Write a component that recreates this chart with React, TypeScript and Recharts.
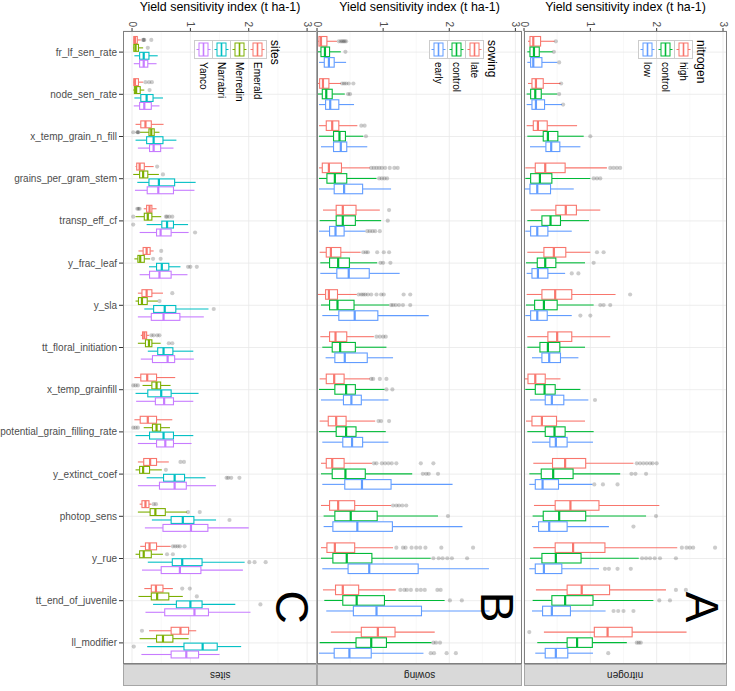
import { BarChart, Bar, XAxis, YAxis, CartesianGrid } from 'recharts';

const params = [
  'fr_lf_sen_rate', 'node_sen_rate', 'x_temp_grain_n_fill', 'grains_per_gram_stem',
  'transp_eff_cf', 'y_frac_leaf', 'y_sla', 'tt_floral_initiation', 'x_temp_grainfill',
  'potential_grain_filling_rate', 'y_extinct_coef', 'photop_sens', 'y_rue',
  'tt_end_of_juvenile', 'll_modifier',
];

const xTicks = [0, 1, 2, 3];
const minorTicks = [0.5, 1.5, 2.5];
const axisTitle = 'Yield sensitivity index (t ha-1)';

// each row: [lower whisker, q1, median, q3, upper whisker], one row per parameter
const emerald = [
  [0.02, 0.03, 0.05, 0.09, 0.15], [0.02, 0.03, 0.05, 0.11, 0.19], [0.06, 0.15, 0.23, 0.33, 0.54],
  [0.06, 0.08, 0.13, 0.21, 0.37], [0.2, 0.25, 0.3, 0.34, 0.42], [0.11, 0.19, 0.25, 0.31, 0.37],
  [0.1, 0.17, 0.25, 0.34, 0.53], [0.15, 0.18, 0.21, 0.25, 0.29], [0.04, 0.15, 0.26, 0.42, 0.74],
  [0.04, 0.14, 0.27, 0.42, 0.69], [0.1, 0.2, 0.31, 0.42, 0.63], [0.13, 0.17, 0.23, 0.29, 0.33],
  [0.14, 0.23, 0.3, 0.42, 0.66], [0.21, 0.33, 0.41, 0.53, 0.7], [0.29, 0.67, 0.83, 0.97, 1.1],
];
const emeraldOut = [[0.19, 0.2, 0.21, 0.33], [0.23, 0.29, 0.34], [], [0.43], [0.09, 0.11, 0.13], [0.5], [0.69],
  [0.33, 0.37, 0.43, 0.47], [], [], [0.83, 0.89], [0.37, 0.41], [0.7, 0.74, 0.78, 0.82, 0.9], [0.86, 0.99], [0.17]];

const merredin = [
  [0.02, 0.03, 0.06, 0.11, 0.19], [0.02, 0.04, 0.07, 0.14, 0.21], [0.14, 0.29, 0.33, 0.38, 0.47],
  [0.02, 0.13, 0.19, 0.27, 0.46], [0.06, 0.21, 0.27, 0.34, 0.5], [0.04, 0.1, 0.14, 0.21, 0.31],
  [0.06, 0.11, 0.17, 0.26, 0.44], [0.1, 0.23, 0.29, 0.34, 0.49], [0.18, 0.34, 0.42, 0.49, 0.66],
  [0.2, 0.35, 0.42, 0.49, 0.65], [0.06, 0.13, 0.19, 0.3, 0.51], [0.1, 0.31, 0.4, 0.57, 0.94],
  [0.06, 0.13, 0.2, 0.33, 0.53], [0.11, 0.33, 0.43, 0.63, 0.87], [0.13, 0.42, 0.53, 0.7, 0.97],
];
const merredinOut = [[0.27], [0.3], [0.02, 0.09, 0.1, 0.11], [0.53], [0.02, 0.58, 0.6, 0.64, 0.69], [0.36, 0.49],
  [0.47], [0.63, 0.69], [0.02, 0.06, 0.1], [0.02, 0.06, 0.1], [0.58], [0.96, 1.16], [0.6, 0.7], [1.11], []];

const narrabri = [
  [0.04, 0.13, 0.2, 0.29, 0.44], [0.04, 0.15, 0.25, 0.36, 0.53], [0.06, 0.25, 0.37, 0.53, 0.76],
  [0.09, 0.29, 0.46, 0.73, 1.09], [0.25, 0.51, 0.6, 0.71, 0.96], [0.29, 0.42, 0.51, 0.63, 0.83],
  [0.21, 0.37, 0.56, 0.75, 1.31], [0.27, 0.44, 0.54, 0.7, 1.05], [0.06, 0.27, 0.5, 0.67, 1.14],
  [0.06, 0.3, 0.54, 0.71, 1.05], [0.25, 0.54, 0.73, 0.9, 1.26], [0.34, 0.67, 0.87, 1.06, 1.44],
  [0.27, 0.69, 0.86, 1.2, 1.93], [0.36, 0.76, 1.0, 1.2, 1.77], [0.26, 0.89, 1.21, 1.46, 1.87],
];
const narrabriOut = [[], [], [], [], [0.02], [0.96, 1.0, 1.11], [1.4], [], [], [], [1.62, 1.65, 1.7, 1.84],
  [1.67], [2.01, 2.1, 2.29], [2.2], [0.03]];

const yanco = [
  [0.03, 0.13, 0.2, 0.27, 0.42], [0.03, 0.13, 0.21, 0.33, 0.47], [0.1, 0.3, 0.37, 0.49, 0.71],
  [0.05, 0.26, 0.45, 0.71, 1.07], [0.13, 0.42, 0.49, 0.67, 0.97], [0.13, 0.3, 0.47, 0.67, 0.95],
  [0.1, 0.33, 0.54, 0.82, 1.23], [0.15, 0.35, 0.61, 0.73, 1.06], [0.07, 0.4, 0.55, 0.71, 1.05],
  [0.1, 0.42, 0.57, 0.71, 1.02], [0.1, 0.47, 0.73, 0.93, 1.44], [0.22, 0.53, 1.01, 1.3, 2.0],
  [0.17, 0.5, 0.82, 1.18, 1.9], [0.23, 0.56, 1.07, 1.31, 2.03], [0.16, 0.67, 0.93, 1.14, 1.5],
];
const yancoOut = [[], [], [], [], [1.08], [], [], [], [], [], [], [], [], [], []];

const late = [
  [0.01, 0.03, 0.06, 0.15, 0.3], [0.01, 0.04, 0.09, 0.18, 0.36], [0.03, 0.14, 0.23, 0.33, 0.61],
  [0.03, 0.08, 0.18, 0.37, 0.8], [0.09, 0.29, 0.39, 0.59, 0.95], [0.04, 0.14, 0.21, 0.36, 0.66],
  [0.01, 0.13, 0.18, 0.31, 0.6], [0.05, 0.19, 0.28, 0.45, 0.86], [0.04, 0.14, 0.26, 0.41, 0.8],
  [0.04, 0.17, 0.29, 0.44, 0.88], [0.06, 0.14, 0.23, 0.41, 0.83], [0.06, 0.19, 0.32, 0.57, 1.12],
  [0.06, 0.15, 0.27, 0.57, 1.15], [0.09, 0.28, 0.39, 0.63, 1.19], [0.21, 0.67, 0.92, 1.18, 1.78],
];
const lateOut = [[0.33, 0.36, 0.38, 0.4, 0.42, 0.44], [0.38, 0.41, 0.44, 0.48, 0.55], [0.67, 0.72],
  [0.82, 0.86, 0.9, 0.94, 0.98, 1.03, 1.1, 1.17, 1.22], [1.09], [0.7, 0.74, 0.77, 0.91, 1.01, 1.09],
  [0.63, 0.67, 0.7, 0.73, 0.77, 0.82, 0.9, 0.97, 1.01, 1.31, 1.41], [0.9, 0.95, 1.0, 1.04], [0.82, 0.85, 0.95, 1.05],
  [0.93, 0.97, 1.09], [0.86, 0.9, 0.98, 1.03, 1.08, 1.13, 1.2, 1.57, 1.76], [1.15, 1.2, 1.24, 1.29, 1.35],
  [1.2, 1.3, 1.34, 1.43, 1.5, 1.56, 1.64, 1.88, 2.36], [1.26, 1.32, 1.36, 1.42, 1.51, 1.57, 1.63, 1.82, 1.87], []];

const sowControl = [
  [0.01, 0.06, 0.12, 0.19, 0.36], [0.01, 0.08, 0.14, 0.23, 0.42], [0.03, 0.25, 0.34, 0.43, 0.7],
  [0.03, 0.15, 0.27, 0.45, 0.9], [0.04, 0.29, 0.39, 0.58, 0.97], [0.05, 0.19, 0.32, 0.49, 0.91],
  [0.06, 0.19, 0.31, 0.56, 1.09], [0.08, 0.23, 0.35, 0.58, 1.05], [0.03, 0.27, 0.44, 0.58, 1.02],
  [0.03, 0.29, 0.44, 0.59, 1.04], [0.06, 0.23, 0.43, 0.73, 1.44], [0.1, 0.27, 0.51, 0.91, 1.83],
  [0.06, 0.24, 0.45, 0.83, 1.72], [0.11, 0.39, 0.6, 1.02, 1.93], [0.04, 0.59, 0.82, 1.05, 1.73],
];
const sowControlOut = [[0.43], [0.47, 0.5], [0.74], [0.94, 0.98, 1.02, 1.06], [1.07], [0.96, 1.0, 1.11],
  [1.12, 1.15, 1.19, 1.24, 1.3, 1.41], [], [1.05, 1.14], [], [1.6, 1.65, 1.69, 1.83], [1.98],
  [1.76, 1.84, 1.9, 1.97, 2.04, 2.27], [2.01, 2.19], [1.76, 1.8, 1.86]];

const early = [
  [0.03, 0.11, 0.18, 0.26, 0.44], [0.03, 0.13, 0.2, 0.33, 0.56], [0.06, 0.25, 0.36, 0.45, 0.76],
  [0.03, 0.26, 0.41, 0.69, 1.12], [0.03, 0.19, 0.28, 0.41, 0.73], [0.05, 0.3, 0.48, 0.79, 1.25],
  [0.08, 0.33, 0.57, 0.92, 1.69], [0.13, 0.27, 0.42, 0.76, 1.15], [0.06, 0.4, 0.52, 0.67, 1.08],
  [0.08, 0.39, 0.53, 0.69, 1.08], [0.08, 0.42, 0.68, 1.12, 2.05], [0.1, 0.24, 0.61, 1.14, 2.2],
  [0.08, 0.47, 0.79, 1.53, 2.6], [0.14, 0.55, 0.9, 1.58, 2.61], [0.03, 0.26, 0.49, 0.82, 1.61],
];
const earlyOut = [[], [], [], [], [0.76, 0.8, 0.84, 0.88, 0.95], [], [], [], [], [], [], [], [], [],
  [1.72, 1.77, 1.96, 2.1]];

const high = [
  [0.06, 0.09, 0.14, 0.25, 0.46], [0.06, 0.12, 0.18, 0.29, 0.55], [0.04, 0.14, 0.21, 0.35, 0.8],
  [0.02, 0.17, 0.32, 0.62, 1.25], [0.1, 0.48, 0.63, 0.79, 1.15], [0.05, 0.3, 0.45, 0.63, 1.0],
  [0.04, 0.27, 0.47, 0.72, 1.38], [0.05, 0.36, 0.5, 0.72, 1.3], [0.0, 0.06, 0.17, 0.32, 0.55],
  [0.03, 0.12, 0.27, 0.49, 0.92], [0.14, 0.43, 0.62, 0.93, 1.65], [0.15, 0.47, 0.7, 1.13, 2.04],
  [0.14, 0.47, 0.74, 1.22, 2.31], [0.18, 0.65, 0.87, 1.29, 2.14], [0.3, 1.06, 1.26, 1.63, 2.45],
];
const highOut = [[0.48], [0.56], [], [1.3, 1.35, 1.4, 1.45], [], [1.1, 1.2], [1.6], [], [], [],
  [1.7, 1.75, 1.8, 1.85, 1.9, 1.94, 2.0], [], [2.38, 2.45, 2.5, 2.55, 2.88], [2.29, 2.44], [0.08]];

const nitControl = [
  [0.05, 0.09, 0.15, 0.23, 0.43], [0.04, 0.1, 0.17, 0.26, 0.5], [0.05, 0.29, 0.36, 0.51, 0.9],
  [0.02, 0.1, 0.24, 0.42, 1.0], [0.05, 0.27, 0.4, 0.55, 0.98], [0.03, 0.2, 0.32, 0.48, 0.92],
  [0.03, 0.16, 0.3, 0.5, 1.05], [0.05, 0.24, 0.36, 0.54, 0.92], [0.02, 0.17, 0.31, 0.47, 0.85],
  [0.05, 0.32, 0.46, 0.62, 1.05], [0.08, 0.26, 0.44, 0.74, 1.45], [0.13, 0.29, 0.53, 0.93, 1.84],
  [0.09, 0.27, 0.48, 0.86, 1.73], [0.13, 0.42, 0.62, 1.04, 1.95], [0.2, 0.65, 0.8, 1.03, 1.55],
];
const nitControlOut = [[0.45], [0.53], [1.0], [1.05, 1.1, 1.15], [], [1.05], [1.15, 1.2, 1.3], [], [], [],
  [1.62, 1.68, 1.84], [1.99], [1.78, 1.84, 1.9, 1.97, 2.05, 2.29], [2.04, 2.2], [1.7, 1.73, 1.76]];

const low = [
  [0.05, 0.1, 0.14, 0.27, 0.5], [0.04, 0.12, 0.18, 0.31, 0.57], [0.09, 0.33, 0.41, 0.54, 0.85],
  [0.01, 0.09, 0.2, 0.4, 0.75], [0.02, 0.1, 0.2, 0.36, 0.72], [0.04, 0.12, 0.21, 0.36, 0.62],
  [0.02, 0.1, 0.2, 0.35, 0.72], [0.12, 0.27, 0.38, 0.55, 0.82], [0.09, 0.32, 0.42, 0.6, 0.97],
  [0.12, 0.39, 0.48, 0.65, 1.04], [0.08, 0.17, 0.28, 0.52, 1.03], [0.12, 0.22, 0.38, 0.65, 1.28],
  [0.08, 0.17, 0.3, 0.57, 1.13], [0.12, 0.28, 0.42, 0.7, 1.23], [0.17, 0.32, 0.48, 0.66, 1.04],
];
const lowOut = [[0.53], [0.59], [], [], [], [0.72, 0.82], [0.85, 1.0], [], [1.07], [], [1.06, 1.19, 1.41],
  [1.65], [1.22, 1.28, 1.41, 1.61], [1.35, 1.42, 1.5, 1.65], [1.27]];

const FONT = '"Liberation Sans", Arial, Helvetica, sans-serif';
const PLOT_TOP = 31;
const PLOT_H = 633;

interface Series { name: string; color: string; box: number[][]; out: number[][]; }

const panels = [
  {
    strip: 'sites', letter: 'C', left: 0, yAxisWidth: 123, plotWidth: 194, domain: [-0.155, 3.17],
    legendLeft: 194,
    series: [
      { name: 'Emerald', color: '#F8766D', box: emerald, out: emeraldOut },
      { name: 'Merredin', color: '#7CAE00', box: merredin, out: merredinOut },
      { name: 'Narrabri', color: '#00BFC4', box: narrabri, out: narrabriOut },
      { name: 'Yanco', color: '#C77CFF', box: yanco, out: yancoOut },
    ],
  },
  {
    strip: 'sowing', letter: 'B', left: 317, yAxisWidth: 0, plotWidth: 205, domain: [0, 3.1],
    legendLeft: 429,
    series: [
      { name: 'late', color: '#F8766D', box: late, out: lateOut },
      { name: 'control', color: '#00BA38', box: sowControl, out: sowControlOut },
      { name: 'early', color: '#619CFF', box: early, out: earlyOut },
    ],
  },
  {
    strip: 'nitrogen', letter: 'A', left: 524, yAxisWidth: 0, plotWidth: 203, domain: [0, 3.06],
    legendLeft: 638,
    series: [
      { name: 'high', color: '#F8766D', box: high, out: highOut },
      { name: 'control', color: '#00BA38', box: nitControl, out: nitControlOut },
      { name: 'low', color: '#619CFF', box: low, out: lowOut },
    ],
  },
];

// horizontal boxplot drawn on top of a [q1, q3] range bar; other values mapped with the bar's own scale
const makeBox = (s: Series) => (props: any) => {
  const { x, y, width, height, payload } = props;
  const st = payload[s.name + '_st'];
  if (!st) return <g />;
  const k = width / (st.q3 - st.q1);
  const sx = (v: number) => x + (v - st.q1) * k;
  const cy = y + height / 2;
  return (
    <g>
      <line x1={sx(st.min)} x2={x} y1={cy} y2={cy} stroke={s.color} strokeWidth={1.1} />
      <line x1={x + width} x2={sx(st.max)} y1={cy} y2={cy} stroke={s.color} strokeWidth={1.1} />
      <rect x={x} y={y + 0.5} width={width} height={Math.max(height - 1, 1)} fill="#fff" stroke={s.color} strokeWidth={1.1} />
      <line x1={sx(st.med)} x2={sx(st.med)} y1={y + 0.5} y2={y + height - 0.5} stroke={s.color} strokeWidth={2.2} />
      {st.out.map((v: number, i: number) => (
        <circle key={i} cx={sx(v)} cy={cy} r={2.1} fill="#000" fillOpacity={0.2} />
      ))}
    </g>
  );
};

const TopTick = (p: any) => (
  <text transform={`translate(${p.x},${p.y + 1}) rotate(90)`} textAnchor="end" dominantBaseline="central"
    fontSize={10} fill="#4d4d4d" fontFamily={FONT}>
    {p.payload.value}
  </text>
);

function KeyLegend({ left, series, title }: { left: number; series: Series[]; title: string }) {
  const items = [...series].reverse();
  const k = 18;
  return (
    <svg width={items.length * k + 26} height={70}
      style={{ position: 'absolute', left, top: 40, overflow: 'visible' }}>
      {items.map((s, i) => (
        <g key={s.name}>
          <rect x={i * k + 0.5} y={0.5} width={k} height={k} fill="#fff" stroke="#cccccc" strokeWidth={1} />
          <line x1={i * k + 2.5} x2={i * k + k - 1.5} y1={9.5} y2={9.5} stroke={s.color} strokeWidth={1} />
          <rect x={i * k + 5} y={3} width={k - 9} height={13} fill="#fff" stroke={s.color} strokeWidth={1} />
          <line x1={i * k + 9.5} x2={i * k + 9.5} y1={3} y2={16} stroke={s.color} strokeWidth={1.6} />
          <text transform={`translate(${i * k + 9.5},${k + 4}) rotate(90)`} dominantBaseline="central"
            fontSize={10} fill="#000" fontFamily={FONT}>{s.name}</text>
        </g>
      ))}
      <text transform={`translate(${items.length * k + 9},0) rotate(90)`} dominantBaseline="central"
        fontSize={12} fill="#000" fontFamily={FONT}>{title}</text>
    </svg>
  );
}

function Panel({ cfg }: { cfg: (typeof panels)[number] }) {
  const series = cfg.series as Series[];
  const rows = params.map((p, i) => {
    const r: any = { name: p };
    series.forEach((s) => {
      const [min, q1, med, q3, max] = s.box[i];
      r[s.name] = [q1, q3];
      r[s.name + '_st'] = { min, q1, med, q3, max, out: s.out[i] };
    });
    return r;
  });
  const band = PLOT_H / params.length;
  const barSize = (band * 0.75) / series.length;
  const width = cfg.yAxisWidth + cfg.plotWidth;
  const plotLeft = cfg.left + cfg.yAxisWidth;
  return (
    <>
      <div style={{ position: 'absolute', left: cfg.left, top: 0 }}>
        <BarChart width={width} height={PLOT_TOP + PLOT_H} data={rows} layout="vertical"
          margin={{ top: 0, right: 0, bottom: 0, left: 0 }} barGap={0} barSize={barSize}>
          <CartesianGrid stroke="#f3f3f3" strokeWidth={0.6} horizontal={false} verticalValues={minorTicks} />
          <CartesianGrid stroke="#e8e8e8" strokeWidth={0.8} verticalValues={xTicks} />
          <XAxis type="number" orientation="top" domain={cfg.domain} ticks={xTicks} allowDataOverflow
            height={PLOT_TOP} axisLine={false} tickSize={3} tickLine={{ stroke: '#333' }} tick={<TopTick />}
            interval={0} />
          <YAxis type="category" dataKey="name" width={cfg.yAxisWidth} hide={cfg.yAxisWidth === 0}
            axisLine={false} tickSize={4} tickLine={{ stroke: '#333' }} interval={0}
            tick={{ fontSize: 10, fill: '#4d4d4d', fontFamily: FONT }} />
          {series.map((s) => (
            <Bar key={s.name} dataKey={s.name} fill={s.color} isAnimationActive={false} shape={makeBox(s)} />
          ))}
        </BarChart>
      </div>
      <div style={{
        position: 'absolute', left: plotLeft, top: PLOT_TOP, width: cfg.plotWidth, height: PLOT_H,
        border: '1px solid #808080', boxSizing: 'border-box', pointerEvents: 'none',
      }} />
      <div style={{
        position: 'absolute', left: plotLeft, top: 0, width: cfg.plotWidth, textAlign: 'center',
        fontSize: 12.4, lineHeight: '14px', color: '#000', whiteSpace: 'nowrap',
      }}>{axisTitle}</div>
      <div style={{
        position: 'absolute', left: plotLeft, top: PLOT_TOP + PLOT_H, width: cfg.plotWidth, height: 22,
        background: '#d9d9d9', border: '1px solid #a6a6a6', boxSizing: 'border-box',
        display: 'flex', alignItems: 'center', justifyContent: 'center',
      }}>
        <span style={{ transform: 'rotate(180deg)', fontSize: 10, color: '#1a1a1a' }}>{cfg.strip}</span>
      </div>
      <div style={{
        position: 'absolute', left: plotLeft + cfg.plotWidth - 25, top: 607, fontSize: 46, lineHeight: 1,
        transform: 'translate(-50%,-50%) rotate(90deg)', color: '#000',
      }}>{cfg.letter}</div>
      <KeyLegend left={cfg.legendLeft} series={series} title={cfg.strip} />
    </>
  );
}

export default function App() {
  return (
    <div style={{ position: 'absolute', left: 0, top: 0, width: 735, height: 691, background: '#fff', fontFamily: FONT }}>
      <style>{'.recharts-surface { overflow: visible; }'}</style>
      {panels.map((p) => <Panel key={p.strip} cfg={p} />)}
    </div>
  );
}
